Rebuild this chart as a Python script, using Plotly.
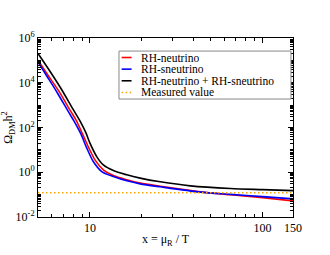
import plotly.graph_objects as go

# x = mu_R / T sample points and Omega_DM h^2 values
x_neutrino = [5.0, 5.70, 6.63, 7.65, 8.29, 9.07, 9.77, 10.69, 11.95, 13.66, 16.35, 19.53, 25.53, 43.6, 65.2, 100.0, 150.0]
rh_neutrino = [1.01e5, 2.23e4, 4010, 611, 218, 50.2, 14.0, 3.58, 1.28, 0.713, 0.458, 0.326, 0.235, 0.133, 0.098, 0.072, 0.0528]

x_sneutrino = [5.0, 5.62, 6.49, 7.45, 8.07, 8.87, 9.57, 10.45, 11.70, 13.66, 16.35, 19.53, 25.53, 43.6, 65.2, 100.0, 150.0]
rh_sneutrino = [8.49e4, 2.01e4, 3400, 551, 197, 50.2, 12.3, 3.01, 1.07, 0.643, 0.413, 0.303, 0.223, 0.129, 0.103, 0.0814, 0.0649]

x_total = [5.0, 5.85, 6.78, 7.96, 8.75, 9.48, 10.0, 10.94, 11.95, 13.66, 16.35, 19.53, 25.53, 38.14, 65.2, 100.0, 150.0]
rh_total = [2.03e5, 3.36e4, 5680, 676, 197, 57.4, 19.9, 5.02, 2.14, 1.19, 0.766, 0.546, 0.373, 0.247, 0.187, 0.167, 0.151]

measured_x = [5.0, 150.0]
measured_y = [0.12, 0.12]

series_names = ["RH-neutrino", "RH-sneutrino", "RH-neutrino + RH-sneutrino", "Measured value"]
series_colors = ["red", "blue", "black", "#FFA500"]

y_tickvals = [1e-2, 1, 1e2, 1e4, 1e6]
y_ticktext = ["10<sup>-2</sup>", "10<sup>0</sup>", "10<sup>2</sup>", "10<sup>4</sup>", "10<sup>6</sup>"]
x_tickvals = [10, 100, 150]
x_ticktext = ["10", "100", "150"]

font_family = "Liberation Serif"
dot_dash = "1.5px,2.5px"

fig = go.Figure()
line_data = [(x_neutrino, rh_neutrino), (x_sneutrino, rh_sneutrino), (x_total, rh_total)]
for (xs, ys), name, color in zip(line_data, series_names[:3], series_colors[:3]):
    fig.add_trace(go.Scatter(x=xs, y=ys, mode="lines", name=name,
                             line=dict(color=color, width=1.6, shape="spline", smoothing=0.8)))
fig.add_trace(go.Scatter(x=measured_x, y=measured_y, mode="lines", name=series_names[3],
                         line=dict(color=series_colors[3], width=1.5, dash=dot_dash)))

axis_common = dict(showgrid=False, zeroline=False, showline=True, linecolor="black", linewidth=1,
                   mirror="allticks", ticks="inside", ticklen=5, tickcolor="black", automargin=False,
                   tickfont=dict(family=font_family, size=12, color="black"))

fig.update_xaxes(type="log", range=[0.69897, 2.17609], tickvals=x_tickvals, ticktext=x_ticktext,
                 minor=dict(ticks="inside", ticklen=3, tickcolor="black", dtick="D1"),
                 title=dict(text="x = μ<sub>R</sub> / T", font=dict(family=font_family, size=12, color="black"), standoff=0),
                 **axis_common)
fig.update_yaxes(type="log", range=[-2, 6], tickvals=y_tickvals, ticktext=y_ticktext,
                 minor=dict(ticks="inside", ticklen=3, tickcolor="black", dtick="D1"),
                 title=dict(text="Ω<sub>DM</sub>h<sup>2</sup>", font=dict(family=font_family, size=12, color="black"), standoff=4),
                 **axis_common)

# custom compact legend (box, swatches, labels) in paper coordinates
leg_x0, leg_x1, leg_y0, leg_y1 = 0.3176, 0.992, 0.659, 0.927
row_y = [0.891, 0.826, 0.761, 0.696]
sw_x0, sw_x1, txt_x = 0.328, 0.367, 0.40
fig.add_shape(type="rect", xref="paper", yref="paper", x0=leg_x0, x1=leg_x1, y0=leg_y0, y1=leg_y1,
              line=dict(color="#888888", width=1), fillcolor="white", layer="above")
for i, (name, color) in enumerate(zip(series_names, series_colors)):
    dash = dot_dash if i == 3 else "solid"
    fig.add_shape(type="line", xref="paper", yref="paper", x0=sw_x0, x1=sw_x1, y0=row_y[i], y1=row_y[i],
                  line=dict(color=color, width=1.6 if i < 3 else 1.5, dash=dash), layer="above")
    fig.add_annotation(xref="paper", yref="paper", x=txt_x, y=row_y[i], text=name, showarrow=False,
                       xanchor="left", yanchor="middle", height=10, borderpad=0,
                       font=dict(family=font_family, size=11.5, color="black"))

fig.update_layout(
    width=330, height=255,
    margin=dict(l=38, r=37, t=38, b=38),
    paper_bgcolor="white", plot_bgcolor="white",
    font=dict(family=font_family, size=12, color="black"),
    showlegend=False,
)

fig.write_html("out.html", config={"displayModeBar": False},
               post_script="document.body.style.margin='0';document.body.style.overflow='hidden';")
